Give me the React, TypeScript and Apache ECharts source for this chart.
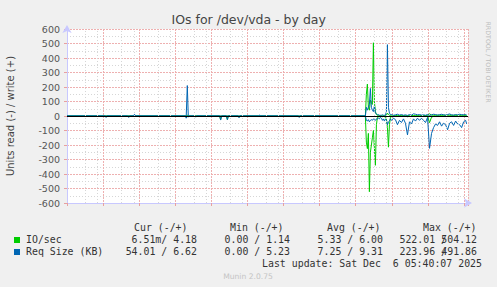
import React, { useEffect, useRef } from "react";
import * as echarts from "echarts";

// time in hours relative to Fri 00:00
const hours = [
  -3.55, -0.38, -0.3, -0.22, 1.5, 1.58, 1.66, 1.98, 2.06, 2.14,
  6.28, 6.36, 6.45, 6.53, 6.61, 7.06, 7.14, 7.22, 9.14, 9.22,
  9.3, 9.7, 9.78, 9.86, 10.67, 10.75, 10.83, 12.39, 12.47, 12.55,
  15.67, 15.75, 15.83, 21.17,
  21.25, 21.333, 21.417, 21.5, 21.583, 21.667, 21.75, 21.833, 21.917, 22.0,
  22.083, 22.167, 22.25, 22.333, 22.417, 22.5, 22.583, 22.667, 22.75, 22.833,
  22.917, 23.0, 23.083, 23.167, 23.25, 23.333, 23.417, 23.5, 23.583,
  23.75, 23.917, 24.083, 24.25, 24.417, 24.583, 24.75, 24.917, 25.083, 25.25,
  25.417, 25.583, 25.75, 25.917, 26.083, 26.25, 26.417, 26.583, 26.75, 26.917,
  27.083, 27.25, 27.417, 27.583, 27.75, 27.917, 28.083, 28.25, 28.417, 28.583,
  28.75, 28.917, 29.083, 29.25, 29.417, 29.583, 29.667,
];

// IO/sec write (+)
const ioWrite = [
  0, 0, 0, 0, 0, 0, 0, 0, 0, 0,
  0, 0, 5, 0, 0, 0, 0, 0, 0, 0,
  0, 0, 0, 0, 0, 0, 0, 0, 0, 0,
  0, 0, 0, 0,
  0, 150, 220, 60, 40, 110, 90, 80, 505, 100,
  30, 10, 5, 3, 3, 2, 2, 2, 2, 2,
  2, 5, 20, 10, 5, 3, 2, 2, 2,
  3, 2, 2, 3, 2, 1, 2, 2, 3, 3,
  2, 2, 2, 2, 3, 2, 2, 15, 6, 5,
  5, 6, 5, 5, 6, 5, 5, 6, 5, 5,
  5, 6, 5, 5, 6, 5, 4.18,
];

// IO/sec read (-)
const ioRead = [
  0, 0, 3, 0, 0, 0, 0, 0, 0, 0,
  0, 0, 0, 0, 0, 0, 0, 0, 0, 25,
  0, 0, 25, 0, 0, 8, 0, 0, 0, 0,
  0, 5, 0, 0,
  0, 180, 225, 120, 522, 250, 200, 150, 100, 220,
  340, 60, 10, 5, 5, 2, 3, 5, 3, 5,
  5, 20, 80, 215, 60, 10, 5, 5, 3,
  2, 1, 0, 1, 2, 0, 5, 1, 0, 1,
  0, 0, 1, 0, 1, 2, 0, 46, 8, 2,
  1, 0, 1, 0, 0, 1, 3, 0, 0, 1,
  0, 0, 1, 2, 0, 0, 0.0065,
];

// Req Size (KB) write (+)
const reqWrite = [
  0, 0, 0, 0, 0, 0, 0, 0, 12, 0,
  0, 0, 210, 0, 0, 0, 0, 0, 0, 0,
  0, 0, 0, 0, 0, 0, 0, 0, 6, 0,
  0, 0, 0, 0,
  0, 60, 40, 60, 80, 190, 60, 40, 30, 70,
  20, 15, 10, 10, 5, 5, 5, 8, 5, 5,
  5, 30, 492, 60, 20, 10, 10, 8, 5,
  8, 12, 6, 10, 5, 8, 4, 10, 6, 15,
  12, 8, 10, 6, 8, 5, 10, 3, 8, 12,
  10, 6, 9, 12, 8, 6, 10, 14, 8, 6,
  10, 7, 12, 9, 8, 10, 6.62,
];

// Req Size (KB) read (-)
const reqRead = [
  0, 0, 10, 0, 0, 10, 0, 0, 0, 0,
  0, 15, 0, 8, 0, 0, 8, 0, 0, 28,
  0, 0, 25, 0, 0, 12, 0, 0, 0, 0,
  0, 10, 0, 0,
  0, 30, 35, 25, 40, 30, 25, 30, 20, 25,
  30, 20, 20, 15, 20, 10, 15, 30, 20, 35,
  20, 30, 60, 40, 35, 20, 30, 25, 15,
  25, 60, 30, 45, 20, 50, 130, 40, 55, 20,
  35, 15, 30, 15, 30, 45, 10, 223, 120, 80,
  55, 65, 40, 70, 50, 60, 95, 50, 40, 65,
  35, 55, 60, 80, 40, 30, 54.01,
];

const xTickHours = [0, 6, 12, 18, 24];
const xTickLabels = ["Fri 00:00", "Fri 06:00", "Fri 12:00", "Fri 18:00", "Sat 00:00"];
const xMin = -3.55;
const xMax = 29.78;
const yMin = -600;
const yMax = 600;
const yStep = 100;

const titleText = "IOs for /dev/vda - by day";
const yName = "Units read (-) / write (+)";
const watermark = "RRDTOOL / TOBI OETIKER";
const legendNames = ["IO/sec", "Req Size (KB)"];
const legendColors = ["#00cc00", "#0066b3"];
const legendHeaders = ["Cur (-/+)", "Min (-/+)", "Avg (-/+)", "Max (-/+)"];
const curVals = ["6.51m/ 4.18", "54.01 / 6.62"];
const minVals = ["0.00 / 1.14", "0.00 / 5.23"];
const avgVals = ["5.33 / 6.00", "7.25 / 9.31"];
const maxReadVals = ["522.01 /", "223.96 /"];
const maxWriteVals = ["504.12", "491.86"];
const lastUpdate = "Last update: Sat Dec \u00a06 05:40:07 2025";
const footer = "Munin 2.0.75";

const MONO = "'DejaVu Sans Mono', monospace";
const SANS = "'DejaVu Sans', sans-serif";

export default function App() {
  const ref = useRef<HTMLDivElement>(null);
  useEffect(() => {
    if (!ref.current) return;
    const chart = echarts.init(ref.current, undefined, { renderer: "svg" });

    const minorXs: number[] = [];
    for (let h = Math.ceil(xMin); h <= Math.floor(xMax); h++) {
      if (h % 3 !== 0) minorXs.push(h);
    }

    const pairs = (vals: number[], sign: number) => hours.map((h, i) => [h, sign * vals[i]]);

    const lineSeries = (name: string, vals: number[], sign: number, color: string) => ({
      type: "line",
      name,
      data: pairs(vals, sign),
      showSymbol: false,
      symbol: "none",
      lineStyle: { color, width: 1 },
      itemStyle: { color },
      z: 3,
      silent: true,
    });

    const headerX = [134, 230, 327, 423];
    const rowY = [239.7, 251.7];
    const graphics: any[] = [
      {
        type: "text",
        x: 248.7,
        y: 19,
        style: { text: titleText, fill: "#444", fontFamily: SANS, fontSize: 12.5, align: "center", verticalAlign: "middle" },
      },
      {
        type: "text",
        x: 10.5,
        y: 116,
        rotation: Math.PI / 2,
        style: { text: yName, fill: "#444", fontFamily: SANS, fontSize: 10, align: "center", verticalAlign: "middle" },
      },
      {
        type: "text",
        x: 488,
        y: 62,
        rotation: -Math.PI / 2,
        style: { text: watermark, fill: "#bdbdbd", fontFamily: SANS, fontSize: 6.3, align: "center", verticalAlign: "middle" },
      },
      ...legendHeaders.map((t, i) => ({
        type: "text",
        x: headerX[i],
        y: 227.5,
        style: { text: t, fill: "#333", fontFamily: MONO, fontSize: 9.9, align: "left", verticalAlign: "middle" },
      })),
      ...legendNames.flatMap((n, r) => [
        {
          type: "rect",
          shape: { x: 14, y: rowY[r] - 2.7, width: 6, height: 6 },
          style: { fill: legendColors[r] },
        },
        {
          type: "text",
          x: 26,
          y: rowY[r],
          style: { text: n, fill: "#333", fontFamily: MONO, fontSize: 9.9, align: "left", verticalAlign: "middle" },
        },
        ...[
          [curVals[r], 197],
          [minVals[r], 290],
          [avgVals[r], 383],
          [maxReadVals[r], 447],
          [maxWriteVals[r], 477],
        ].map(([t, x]) => ({
          type: "text",
          x: x as number,
          y: rowY[r],
          style: { text: t as string, fill: "#333", fontFamily: MONO, fontSize: 9.9, align: "right", verticalAlign: "middle" },
        })),
      ]),
      {
        type: "text",
        x: 482,
        y: 263.5,
        style: { text: lastUpdate, fill: "#333", fontFamily: MONO, fontSize: 9.9, align: "right", verticalAlign: "middle" },
      },
      {
        type: "text",
        x: 248,
        y: 276.5,
        style: { text: footer, fill: "#c4c4c4", fontFamily: SANS, fontSize: 7.6, align: "center", verticalAlign: "middle" },
      },
    ];

    chart.setOption({
      animation: false,
      backgroundColor: "#f0f0f0",
      grid: { left: 67, right: 29, top: 29, bottom: 84, show: true, backgroundColor: "#ffffff", borderWidth: 0 },
      xAxis: {
        type: "value",
        min: xMin,
        max: xMax,
        interval: 3,
        axisLine: {
          onZero: false,
          show: true,
          lineStyle: { color: "#c8c8ff", width: 1 },
          symbol: ["none", "arrow"],
          symbolSize: [7, 8],
          symbolOffset: [0, 4],
        },
        axisTick: { show: true, length: 3, lineStyle: { color: "#e8a0a0" } },
        axisLabel: {
          margin: 5,
          fontFamily: SANS,
          fontSize: 9.5,
          color: "#555",
          formatter: (v: number) => {
            const i = xTickHours.indexOf(Math.round(v * 1000) / 1000);
            return i >= 0 ? xTickLabels[i] : "";
          },
        },
        splitLine: { show: true, lineStyle: { color: "#eeb0b0", type: [2, 1], width: 1 } },
      },
      yAxis: {
        type: "value",
        min: yMin,
        max: yMax,
        interval: yStep,
        axisLine: {
          onZero: false,
          show: true,
          lineStyle: { color: "#c8c8ff", width: 1 },
          symbol: ["none", "arrow"],
          symbolSize: [7, 8],
          symbolOffset: [0, 4],
        },
        axisTick: { show: true, length: 3, lineStyle: { color: "#e8a0a0" } },
        axisLabel: { margin: 7, fontFamily: SANS, fontSize: 9.5, color: "#555" },
        splitLine: { show: true, lineStyle: { color: "#eeb0b0", type: [2, 1], width: 1 } },
        minorTick: { show: false, splitNumber: 2 },
        minorSplitLine: { show: true, lineStyle: { color: "#d6d6d6", type: [1, 2], width: 1 } },
      },
      series: [
        {
          type: "line",
          name: "grid",
          data: [[xMin, 0]],
          symbol: "none",
          showSymbol: false,
          lineStyle: { opacity: 0 },
          z: 1,
          silent: true,
          markLine: {
            silent: true,
            symbol: ["none", "none"],
            label: { show: false },
            lineStyle: { color: "#d6d6d6", type: [1, 2], width: 1 },
            data: minorXs.map((h) => ({ xAxis: h })),
          },
        },
        lineSeries("IO read", ioRead, -1, legendColors[0]),
        lineSeries("IO write", ioWrite, 1, legendColors[0]),
        lineSeries("Req read", reqRead, -1, legendColors[1]),
        lineSeries("Req write", reqWrite, 1, legendColors[1]),
        {
          type: "line",
          name: "zero",
          data: [[xMin, 0]],
          symbol: "none",
          showSymbol: false,
          lineStyle: { opacity: 0 },
          z: 5,
          silent: true,
          markLine: {
            silent: true,
            symbol: ["none", "none"],
            label: { show: false },
            lineStyle: { color: "#000000", type: "solid", width: 1 },
            data: [{ yAxis: 0 }],
          },
        },
      ],
      graphic: graphics,
    });
    return () => chart.dispose();
  }, []);
  return <div ref={ref} style={{ position: "absolute", left: 0, top: 0, width: 497, height: 287 }} />;
}
